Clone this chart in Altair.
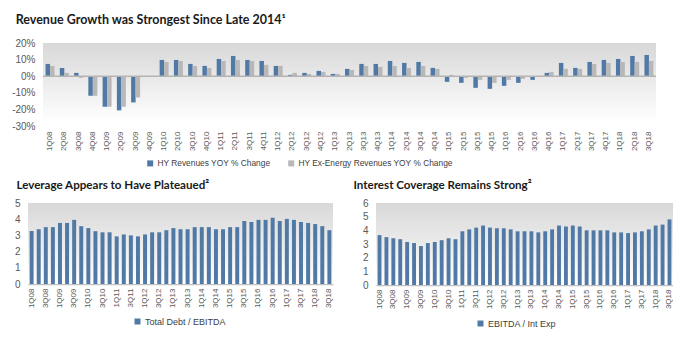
import altair as alt
import pandas as pd

quarters = ["1Q08", "2Q08", "3Q08", "4Q08", "1Q09", "2Q09", "3Q09", "4Q09",
            "1Q10", "2Q10", "3Q10", "4Q10", "1Q11", "2Q11", "3Q11", "4Q11",
            "1Q12", "2Q12", "3Q12", "4Q12", "1Q13", "2Q13", "3Q13", "4Q13",
            "1Q14", "2Q14", "3Q14", "4Q14", "1Q15", "2Q15", "3Q15", "4Q15",
            "1Q16", "2Q16", "3Q16", "4Q16", "1Q17", "2Q17", "3Q17", "4Q17",
            "1Q18", "2Q18", "3Q18"]

rev_yoy = [7.4, 5.0, 2.0, -11.8, -18.4, -20.6, -15.8, 0.0,
           9.8, 9.8, 7.4, 6.2, 10.4, 12.2, 9.8, 9.2,
           6.2, 0.8, 2.0, 3.2, 1.4, 4.4, 7.4, 7.4,
           9.2, 8.0, 8.6, 5.0, -3.4, -4.0, -7.0, -7.6,
           -5.8, -4.0, -2.2, 2.0, 8.0, 5.0, 8.6, 9.8,
           10.4, 12.2, 12.8]
exen_yoy = [6.2, 2.0, -1.0, -11.8, -18.4, -18.4, -12.8, 0.0,
            8.6, 9.2, 6.2, 5.0, 9.2, 9.8, 9.2, 6.8,
            6.2, 2.0, 1.4, 2.6, 1.4, 3.8, 6.2, 5.6,
            6.2, 5.0, 6.2, 4.4, 0.8, -1.0, -2.2, -4.0,
            -2.2, -1.6, 0.0, 2.6, 4.4, 4.4, 7.4, 8.0,
            8.6, 8.6, 9.2]
leverage = [3.27, 3.38, 3.51, 3.51, 3.77, 3.77, 3.96, 3.57,
            3.45, 3.26, 3.19, 3.19, 2.94, 3.06, 3.00, 2.94,
            3.06, 3.19, 3.19, 3.32, 3.45, 3.38, 3.38, 3.51,
            3.51, 3.51, 3.38, 3.38, 3.51, 3.51, 3.89, 3.83,
            3.96, 3.96, 4.09, 3.89, 4.02, 3.96, 3.83, 3.77,
            3.70, 3.57, 3.32]
coverage = [3.65, 3.50, 3.42, 3.35, 3.15, 3.07, 2.85, 3.07,
            3.15, 3.28, 3.42, 3.35, 3.93, 4.07, 4.20, 4.35,
            4.20, 4.15, 4.15, 4.07, 3.93, 3.93, 3.93, 3.85,
            3.93, 4.07, 4.35, 4.28, 4.35, 4.28, 4.00, 4.00,
            4.00, 4.00, 3.85, 3.85, 3.80, 3.85, 3.93, 4.07,
            4.35, 4.42, 4.80]

top_series = ["HY Revenues YOY % Change", "HY Ex-Energy Revenues YOY % Change"]
lev_series = "Total Debt / EBITDA"
cov_series = "EBITDA / Int Exp"
titles = ["Revenue Growth was Strongest Since Late 2014\u00b9",
          "Leverage Appears to Have Plateaued\u00b2",
          "Interest Coverage Remains Strong\u00b2"]
top_ticks = [-30, -20, -10, 0, 10, 20]
lev_ticks = [0, 1, 2, 3, 4, 5]
cov_ticks = [0, 1, 2, 3, 4, 5, 6]

BLUE = "#5079a5"
GRAY = "#b8b8b8"
LABEL = "#595959"
AXISFONT = "Liberation Sans"
TITLEFONT = "Lato"

# layout: the top panel's plot area is indented by a gutter that holds its y labels
TOP_W = 628
TOP_GUTTER = 15


def gradient(end):
    return {"gradient": "linear", "x1": 0, "y1": 0, "x2": 0, "y2": 1,
            "stops": [{"offset": 0, "color": "#d8d8d8"},
                      {"offset": end, "color": "#ffffff"}]}


def background(end, x0=0):
    return alt.Chart(alt.Data(values=[{}])).mark_rect(fill=gradient(end)).encode(
        x=alt.value(x0), x2=alt.value("width"), y=alt.value(0), y2=alt.value("height"))


def title(text, size, dx, offset):
    return alt.TitleParams(text, anchor="start", font=TITLEFONT, fontSize=size,
                           fontWeight="bold", color="#1a1a1a", dx=dx, offset=offset)


# ---- top chart ----
df_top = pd.DataFrame({
    "quarter": quarters * 2,
    "series": [top_series[0]] * len(quarters) + [top_series[1]] * len(quarters),
    "value": rev_yoy + exen_yoy,
})

top_y_scale = alt.Scale(domain=[-30, 20], nice=False)
top_y_axis = alt.Axis(title=None, values=top_ticks, labelExpr="datum.value + '%'",
                      ticks=False, domain=False, grid=False, labelPadding=8,
                      offset=-TOP_GUTTER,
                      labelOverlap=False, labelFontSize=10, labelFont=AXISFONT,
                      labelColor=LABEL)

top_bars = alt.Chart(df_top).mark_bar().encode(
    x=alt.X("quarter:N", sort=quarters,
            scale=alt.Scale(range=[TOP_GUTTER, TOP_W], paddingInner=0.37, paddingOuter=0.18),
            axis=alt.Axis(title=None, labelAngle=270, labelFontSize=8, labelFont=AXISFONT,
                          labelColor=LABEL, ticks=False, domain=False, labelPadding=5,
                          labelOverlap=False)),
    xOffset=alt.XOffset("series:N", sort=top_series),
    y=alt.Y("value:Q", scale=top_y_scale, axis=top_y_axis),
    color=alt.Color("series:N", sort=top_series,
                    scale=alt.Scale(domain=top_series, range=[BLUE, GRAY]),
                    legend=alt.Legend(title=None, orient="none", legendX=118, legendY=116,
                                      direction="horizontal", symbolType="square",
                                      symbolSize=36, symbolStrokeWidth=0,
                                      labelFontSize=8.4, labelFont=AXISFONT, labelLimit=300,
                                      labelColor="#404040", columnPadding=16, labelOffset=3)),
)
zero_rule = alt.Chart(alt.Data(values=[{"zero": 0}])).mark_rule(
    color="#b4b4b4", strokeWidth=1.5).encode(
    x=alt.value(TOP_GUTTER), x2=alt.value("width"),
    y=alt.Y("zero:Q", scale=top_y_scale, axis=top_y_axis))

top = alt.layer(background(0.95, TOP_GUTTER), top_bars, zero_rule).properties(
    width=TOP_W, height=83, title=title(titles[0], 12.5, 4, 11.5))


# ---- bottom charts ----
def bottom(values, series, ticks, ymax, w, h, lx, ly):
    df = pd.DataFrame({"quarter": quarters, "value": values, "series": series})
    bars = alt.Chart(df).mark_bar().encode(
        x=alt.X("quarter:N", sort=quarters,
                scale=alt.Scale(paddingInner=0.44, paddingOuter=0.23),
                axis=alt.Axis(title=None, values=quarters[::2], labelAngle=270, labelFontSize=8,
                              labelFont=AXISFONT, labelColor=LABEL, ticks=False,
                              labelOverlap=False,
                              domain=True, domainColor="#c0c0c0", domainWidth=1.5,
                              labelPadding=4)),
        y=alt.Y("value:Q", scale=alt.Scale(domain=[0, ymax], nice=False),
                axis=alt.Axis(title=None, values=ticks, ticks=False, domain=False, grid=False,
                              labelOverlap=False,
                              labelPadding=8, labelFontSize=10, labelFont=AXISFONT,
                              labelColor=LABEL)),
        color=alt.Color("series:N", scale=alt.Scale(domain=[series], range=[BLUE]),
                        legend=alt.Legend(title=None, orient="none", legendX=lx, legendY=ly,
                                          symbolType="square", symbolSize=36,
                                          symbolStrokeWidth=0, labelFontSize=9,
                                          labelFont=AXISFONT, labelColor="#404040",
                                          labelOffset=3)),
    )
    return alt.layer(background(1.0), bars).properties(width=w, height=h)


left = bottom(leverage, lev_series, lev_ticks, 5, 305, 81, 105, 114)
left = left.properties(title=title(titles[1], 11.6, 2, 6))
right = bottom(coverage, cov_series, cov_ticks, 6, 297, 82, 100, 116)
right = right.properties(title=title(titles[2], 11.6, -9, 6))

lower = alt.concat(left, right, columns=2, align="none", spacing=20).resolve_scale(
    color="independent")

chart = alt.concat(top, lower, columns=1, align="none", spacing=12).resolve_scale(
    color="independent").properties(
    padding={"left": 11, "top": 14, "right": 0, "bottom": 0}
).configure_view(stroke=None).configure_axis(grid=False)

chart.save("out.html", embed_options={"renderer": "svg", "actions": False})
